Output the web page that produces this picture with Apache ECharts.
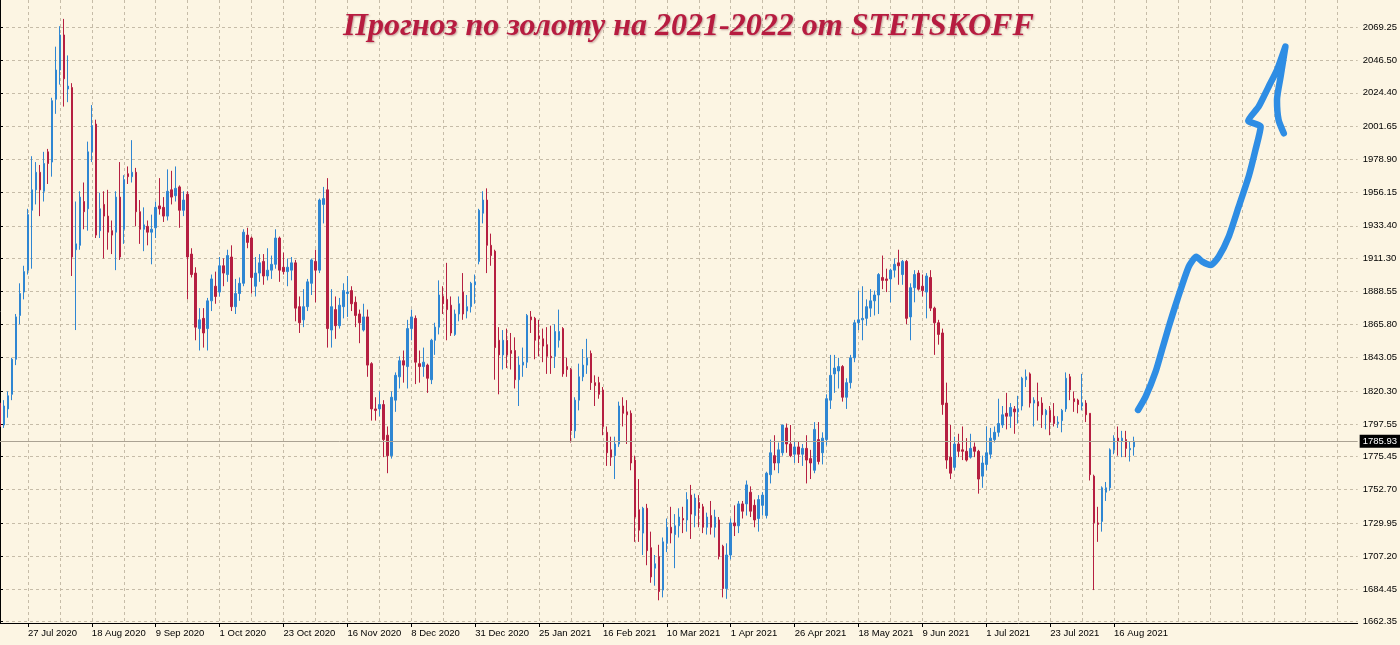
<!DOCTYPE html>
<html>
<head>
<meta charset="utf-8">
<script src="https://cdn.jsdelivr.net/npm/echarts@6/dist/echarts.min.js"></script>
<style>
html,body{margin:0;padding:0;background:#fcf5e3;}
#chart{width:1400px;height:645px;}
</style>
</head>
<body>
<div id="chart"></div>
<script>
// ---------- text ----------
const TITLE = 'Прогноз по золоту на 2021-2022 от STETSKOFF';

// ---------- calendar (trading days) ----------
const FIRST_DAY = [2020, 6, 16];           // 16 Jul 2020 (month is 0-based)
const SKIPPED_DAYS = ['2020-12-25', '2021-01-01', '2021-04-02'];
const SLOT_COUNT = 341;                     // bars + empty space on the right
const MONTHS = ['Jan','Feb','Mar','Apr','May','Jun','Jul','Aug','Sep','Oct','Nov','Dec'];

// ---------- axis tick labels ----------
const xLabelDates = ['27 Jul 2020','18 Aug 2020','9 Sep 2020','1 Oct 2020','23 Oct 2020','16 Nov 2020',
  '8 Dec 2020','31 Dec 2020','25 Jan 2021','16 Feb 2021','10 Mar 2021','1 Apr 2021','26 Apr 2021',
  '18 May 2021','9 Jun 2021','1 Jul 2021','23 Jul 2021','16 Aug 2021'];
const yTicks = [1662.35,1684.45,1707.20,1729.95,1752.70,1775.45,1797.55,1820.30,1843.05,1865.80,
  1888.55,1911.30,1933.40,1956.15,1978.90,2001.65,2024.40,2046.50,2069.25];
const Y_MIN = 1661.46, Y_MAX = 2087.94;
const lastPrice = 1785.93;

// ---------- daily OHLC rows: [open, high, low, close] ----------
const jul2020 = [[1812,1815,1794,1796],[1797,1814,1795,1810],[1808,1820,1802,1817],[1818,1843,1814,1842],
  [1842,1873,1838,1871],[1872,1894,1866,1887],[1888,1906,1883,1902],[1903,1945,1900,1941],
  [1944,1981,1904,1958],[1958,1977,1948,1970],[1970,1975,1940,1958],[1957,1984,1950,1976]];
const aug2020 = [[1984,1986,1962,1976],[1977,2021,1967,2019],[2020,2056,2010,2040],[2040,2070,2030,2064],
  [2064,2075,2015,2034],[2027,2050,2018,2029],[2028,2031,1899,1912],[1917,1950,1862,1921],
  [1920,1957,1917,1953],[1950,1963,1931,1943],[1945,1991,1930,1984],[1984,2016,1977,2002],
  [2003,2006,1925,1927],[1930,1956,1925,1945],[1948,1957,1911,1940],[1940,1958,1917,1929],
  [1930,1937,1914,1927],[1929,1957,1903,1953],[1953,1977,1910,1912],[1931,1968,1921,1965],
  [1969,1974,1962,1967]];
const sep2020 = [[1967,1992,1963,1970],[1970,1973,1933,1943],[1943,1951,1921,1931],[1931,1946,1916,1934],
  [1933,1937,1920,1929],[1929,1941,1907,1931],[1932,1950,1925,1946],[1947,1966,1941,1945],
  [1946,1953,1936,1940],[1940,1972,1937,1957],[1958,1971,1948,1953],[1954,1974,1950,1959],
  [1960,1961,1932,1944],[1944,1957,1940,1951],[1955,1957,1883,1912],[1914,1918,1898,1900],
  [1901,1905,1855,1864],[1863,1877,1848,1869],[1870,1877,1850,1860],[1863,1884,1848,1882],
  [1882,1900,1875,1897],[1892,1902,1880,1885]];
const oct2020 = [[1888,1912,1885,1906],[1906,1911,1892,1901],[1900,1917,1895,1913],[1912,1920,1875,1878],
  [1878,1897,1873,1887],[1887,1898,1882,1894],[1894,1931,1892,1929],[1927,1932,1918,1922],
  [1925,1926,1887,1898],[1892,1912,1885,1901],[1901,1914,1895,1908],[1909,1914,1893,1899],
  [1899,1918,1896,1903],[1903,1913,1897,1907],[1907,1931,1904,1925],[1925,1926,1895,1903],
  [1905,1915,1900,1902],[1902,1911,1892,1905],[1903,1912,1896,1908],[1908,1910,1868,1877],
  [1878,1885,1860,1867],[1869,1890,1864,1878]];
const nov2020 = [[1878,1897,1875,1895],[1894,1911,1886,1910],[1909,1917,1881,1903],[1903,1952,1901,1951],
  [1948,1960,1935,1952],[1958,1966,1850,1863],[1862,1890,1850,1878],[1876,1885,1856,1865],
  [1865,1884,1863,1879],[1878,1894,1870,1889],[1887,1899,1871,1888],[1889,1892,1875,1880],
  [1881,1885,1864,1872],[1873,1876,1853,1867],[1862,1880,1861,1871],[1871,1876,1830,1838],
  [1839,1840,1800,1808],[1808,1816,1800,1807],[1808,1820,1803,1811],[1811,1814,1775,1787],
  [1790,1796,1764,1776]];
const dec2020 = [[1776,1820,1774,1816],[1814,1833,1806,1831],[1830,1844,1822,1841],[1841,1848,1826,1838],
  [1837,1869,1822,1863],[1863,1876,1855,1871],[1870,1872,1825,1840],[1839,1848,1826,1837],
  [1837,1850,1830,1840],[1838,1839,1819,1829],[1828,1856,1825,1855],[1855,1867,1845,1864],
  [1864,1896,1859,1886],[1885,1892,1873,1880],[1883,1908,1855,1876],[1879,1885,1858,1860],
  [1859,1876,1858,1873],[1873,1885,1868,1880],[1888,1901,1869,1873],[1875,1886,1870,1878],
  [1878,1895,1874,1894],[1893,1900,1880,1895]];
const jan2021 = [[1909,1945,1907,1944],[1942,1957,1935,1951],[1951,1959,1901,1920],[1920,1928,1906,1913],
  [1916,1917,1828,1850],[1855,1864,1818,1845],[1845,1862,1835,1855],[1855,1863,1836,1845],
  [1848,1860,1835,1846],[1848,1857,1822,1828],[1828,1844,1810,1838],[1838,1850,1830,1840],
  [1840,1873,1836,1872],[1871,1875,1860,1869],[1870,1871,1842,1855],[1858,1869,1844,1856],
  [1856,1863,1840,1851],[1852,1864,1832,1844],[1844,1865,1832,1843],[1844,1866,1836,1861]];
const feb2021 = [[1855,1876,1850,1861],[1863,1864,1830,1832],[1837,1843,1830,1835],[1835,1836,1785,1793],
  [1793,1816,1788,1814],[1814,1839,1807,1830],[1830,1849,1827,1838],[1838,1856,1832,1843],
  [1846,1848,1821,1826],[1826,1831,1810,1824],[1826,1830,1815,1818],[1821,1823,1790,1796],
  [1792,1796,1769,1778],[1780,1789,1769,1775],[1776,1789,1760,1784],[1784,1813,1782,1810],
  [1810,1816,1796,1805],[1806,1814,1784,1804],[1805,1807,1766,1771],[1773,1776,1717,1734]];
const mar2021 = [[1739,1760,1717,1725],[1723,1741,1708,1740],[1740,1743,1701,1711],[1713,1724,1689,1693],
  [1699,1708,1687,1702],[1707,1715,1677,1683],[1684,1720,1679,1717],[1716,1733,1710,1727],
  [1727,1741,1716,1723],[1722,1736,1699,1728],[1728,1740,1720,1734],[1733,1741,1723,1732],
  [1732,1751,1724,1746],[1749,1756,1719,1736],[1735,1750,1727,1747],[1744,1749,1727,1740],
  [1741,1743,1723,1727],[1727,1737,1722,1734],[1735,1745,1722,1727],[1727,1739,1720,1734],
  [1732,1734,1705,1707],[1714,1715,1679,1685],[1685,1716,1678,1708]];
const apr2021 = [[1708,1733,1705,1730],[1730,1742,1721,1728],[1728,1745,1723,1743],[1743,1745,1733,1738],
  [1743,1759,1735,1756],[1751,1755,1734,1738],[1742,1746,1727,1732],[1733,1749,1724,1746],
  [1742,1751,1735,1749],[1735,1765,1733,1764],[1763,1787,1757,1778],[1776,1790,1766,1771],
  [1771,1785,1764,1780],[1778,1797,1776,1797],[1795,1798,1778,1784],[1784,1797,1775,1776],
  [1777,1786,1771,1782],[1782,1786,1771,1777],[1777,1784,1769,1781],[1781,1790,1757,1773],
  [1774,1780,1760,1771]];
const may2021 = [[1766,1799,1764,1794],[1787,1799,1770,1772],[1778,1792,1770,1788],[1787,1818,1783,1815],
  [1814,1845,1808,1831],[1832,1845,1819,1836],[1834,1843,1822,1837],[1837,1838,1813,1816],
  [1816,1829,1808,1826],[1826,1845,1822,1843],[1843,1869,1840,1867],[1867,1889,1862,1869],
  [1869,1892,1855,1870],[1870,1883,1865,1878],[1877,1890,1871,1882],[1882,1889,1872,1886],
  [1886,1901,1873,1900],[1898,1913,1890,1896],[1897,1904,1888,1896],[1897,1904,1881,1903],
  [1903,1911,1898,1907]];
const jun2021 = [[1908,1917,1893,1906],[1900,1910,1893,1909],[1909,1910,1866,1870],[1871,1894,1855,1891],
  [1891,1903,1881,1900],[1901,1903,1889,1890],[1892,1900,1885,1889],[1888,1901,1870,1899],
  [1898,1903,1875,1877],[1877,1878,1845,1867],[1867,1869,1852,1859],[1860,1863,1804,1811],
  [1812,1826,1767,1773],[1775,1797,1760,1764],[1768,1789,1766,1784],[1784,1791,1775,1779],
  [1780,1796,1773,1779],[1779,1788,1772,1773],[1775,1791,1774,1781],[1782,1785,1775,1779],
  [1779,1780,1750,1760],[1762,1776,1754,1771]];
const jul2021 = [[1770,1796,1766,1778],[1777,1795,1774,1788],[1787,1796,1785,1792],[1792,1815,1789,1798],
  [1797,1810,1795,1804],[1805,1819,1794,1803],[1803,1812,1795,1809],[1808,1810,1791,1806],
  [1806,1817,1798,1808],[1810,1830,1807,1829],[1828,1835,1823,1830],[1832,1833,1809,1812],
  [1812,1816,1796,1814],[1813,1826,1800,1810],[1812,1816,1795,1804],[1804,1808,1794,1807],
  [1807,1810,1790,1799],[1803,1812,1796,1798],[1798,1803,1795,1799],[1800,1808,1792,1807],
  [1808,1833,1806,1829],[1830,1832,1814,1821]];
const aug2021 = [[1815,1820,1806,1813],[1814,1815,1805,1811],[1810,1832,1807,1812],[1812,1814,1799,1804],
  [1805,1805,1759,1763],[1762,1763,1684,1730],[1730,1741,1717,1729],[1731,1755,1724,1754],
  [1751,1758,1745,1754],[1754,1781,1752,1780],[1780,1790,1777,1788],[1788,1796,1776,1786],
  [1786,1793,1775,1788],[1787,1793,1775,1781],[1780,1786,1772,1781],[1782,1789,1776,1785.93]];

// ---------- hand-drawn forecast arrow: [bar slot, price] ----------
const forecastArrow = [[285.0,1807.3],[286.9,1816.4],[289.4,1833.5],[291.0,1848.4],[292.7,1864.3],
  [294.8,1882.5],[297.7,1905.4],[299.6,1912.2],[301.1,1908.8],[303.2,1906.5],[305.2,1912.2],
  [307.7,1925.9],[310.2,1946.4],[312.7,1967.0],[314.4,1985.2],[315.7,2001.2],[312.6,2005.3],
  [315.2,2014.9],[317.7,2028.6],[319.8,2040.0],[321.9,2056.0],[320.7,2035.4],[319.8,2019.5],
  [320.2,2005.8],[321.5,1996.7]];

// ---------- colours ----------
const UP = '#2f86d2', DOWN = '#b51f41', GRID = '#c6bca8', BG = '#fcf5e3';

// ---------- build ----------
function buildDays() {
  const out = [];
  const d = new Date(Date.UTC(FIRST_DAY[0], FIRST_DAY[1], FIRST_DAY[2]));
  while (out.length < SLOT_COUNT) {
    const wd = d.getUTCDay();
    const iso = d.toISOString().slice(0, 10);
    if (wd !== 0 && wd !== 6 && SKIPPED_DAYS.indexOf(iso) < 0) {
      out.push(d.getUTCDate() + ' ' + MONTHS[d.getUTCMonth()] + ' ' + d.getUTCFullYear());
    }
    d.setUTCDate(d.getUTCDate() + 1);
  }
  return out;
}
const categories = buildDays();
const rows = [].concat(jul2020, aug2020, sep2020, oct2020, nov2020, dec2020, jan2021, feb2021,
  mar2021, apr2021, may2021, jun2021, jul2021, aug2021);
const candleData = rows.map(r => [r[0], r[3], r[2], r[1]]);
const labelSet = new Set(xLabelDates);
const firstLabelIdx = categories.indexOf(xLabelDates[0]);

const chart = echarts.init(document.getElementById('chart'), null, {renderer: 'canvas'});
chart.setOption({
  backgroundColor: BG,
  animation: false,
  title: {
    text: TITLE,
    left: 338, top: 6,
    textStyle: {
      fontFamily: 'Liberation Serif', fontStyle: 'italic', fontWeight: 'bold',
      fontSize: 32, color: '#b71c40',
      textShadowColor: 'rgba(90,0,20,0.35)', textShadowBlur: 2, textShadowOffsetX: 1, textShadowOffsetY: 1
    }
  },
  grid: {left: 0, right: 41, top: 0, bottom: 22, containLabel: false},
  xAxis: [{
    type: 'category', data: categories, boundaryGap: false,
    axisLine: {show: true, lineStyle: {color: '#000', width: 1}},
    axisTick: {show: true, length: 4, interval: (i, v) => labelSet.has(v), lineStyle: {color: '#000'}},
    axisLabel: {interval: (i, v) => labelSet.has(v), align: 'left', margin: 5,
      color: '#000', fontSize: 9.5, fontFamily: 'Liberation Sans'},
    splitLine: {show: true, interval: (i) => i >= 0 && ((i - firstLabelIdx) % 8 + 8) % 8 === 0,
      lineStyle: {color: GRID, type: [3, 3], width: 1}}
  }, {
    type: 'value', min: 0, max: SLOT_COUNT - 1, show: false
  }],
  yAxis: {
    type: 'value', position: 'right', min: Y_MIN, max: Y_MAX,
    axisLine: {show: true, lineStyle: {color: '#000', width: 1}},
    axisTick: {show: true, length: 3, customValues: yTicks, lineStyle: {color: '#000'}},
    axisLabel: {customValues: yTicks, formatter: v => Number(v).toFixed(2), margin: 5,
      color: '#000', fontSize: 9.5, fontFamily: 'Liberation Sans'},
    splitLine: {show: true, lineStyle: {color: GRID, type: [3, 3], width: 1}}
  },
  series: [{
    type: 'candlestick', xAxisIndex: 0, yAxisIndex: 0, data: candleData,
    barWidth: 2, silent: true,
    itemStyle: {color: UP, color0: DOWN, borderColor: UP, borderColor0: DOWN, borderWidth: 1},
    markLine: {
      silent: true, symbol: 'none', animation: false,
      data: [{yAxis: lastPrice}],
      lineStyle: {color: '#aaa293', type: 'solid', width: 1},
      label: {show: true, position: 'end', formatter: lastPrice.toFixed(2), distance: 2,
        backgroundColor: '#000', color: '#fff', padding: [2, 3, 1, 3],
        fontSize: 9.5, fontFamily: 'Liberation Sans'}
    }
  }, {
    type: 'line', xAxisIndex: 1, yAxisIndex: 0, data: forecastArrow,
    showSymbol: false, smooth: 0.2, silent: true, z: 5,
    lineStyle: {color: '#2e8de4', width: 6.5, cap: 'round', join: 'round'}
  }]
});
</script>
</body>
</html>
